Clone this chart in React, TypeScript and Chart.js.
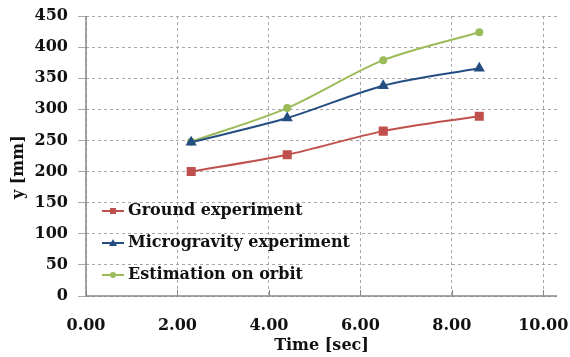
import { useEffect, useRef } from 'react';
import { Chart, registerables } from 'chart.js';

Chart.register(...registerables);

const timeSec = [2.3, 4.4, 6.5, 8.6];
const groundExperiment = [200, 227, 265, 289];
const microgravityExperiment = [247, 286, 338, 366];
const estimationOnOrbit = [248, 302, 379, 424];
const seriesLabels = ['Ground experiment', 'Microgravity experiment', 'Estimation on orbit'];
const xTickValues = [0, 2, 4, 6, 8, 10];
const yTickValues = [0, 50, 100, 150, 200, 250, 300, 350, 400, 450];

const FONT = "'DejaVu Serif', serif";
const RED = '#C0504D';
const BLUE = '#244E82';
const GREEN = '#9BBB59';

const axesPlugin = {
  id: 'solidAxes',
  beforeDatasetsDraw(chart: any) {
    const { ctx, chartArea } = chart;
    const xs = chart.scales.x;
    ctx.save();
    ctx.strokeStyle = '#888';
    ctx.lineWidth = 1.5;
    ctx.setLineDash([]);
    ctx.beginPath();
    ctx.moveTo(chartArea.left, chartArea.top);
    ctx.lineTo(chartArea.left, chartArea.bottom);
    ctx.lineTo(chartArea.right, chartArea.bottom);
    ctx.stroke();
    // inside tick marks on the x axis
    ctx.lineWidth = 1;
    xTickValues.forEach((v) => {
      const px = Math.round(xs.getPixelForValue(v)) + 0.5;
      ctx.beginPath();
      ctx.moveTo(px, chartArea.bottom);
      ctx.lineTo(px, chartArea.bottom - 6);
      ctx.stroke();
    });
    ctx.restore();
  },
};

const legendPlugin = {
  id: 'insideLegend',
  afterDatasetsDraw(chart: any) {
    const { ctx, chartArea } = chart;
    const rows = [85, 53, 21];
    ctx.save();
    chart.data.datasets.forEach((ds: any, i: number) => {
      const y = chartArea.bottom - rows[i];
      const x0 = chartArea.left + 16;
      const x1 = chartArea.left + 38;
      const cx = (x0 + x1) / 2;
      ctx.strokeStyle = ds.borderColor;
      ctx.lineWidth = 2;
      ctx.beginPath();
      ctx.moveTo(x0, y);
      ctx.lineTo(x1, y);
      ctx.stroke();
      ctx.fillStyle = ds.borderColor;
      ctx.beginPath();
      if (ds.pointStyle === 'rect') {
        ctx.rect(cx - 3, y - 3, 6, 6);
      } else if (ds.pointStyle === 'triangle') {
        ctx.moveTo(cx, y - 4);
        ctx.lineTo(cx + 4, y + 3);
        ctx.lineTo(cx - 4, y + 3);
        ctx.closePath();
      } else {
        ctx.arc(cx, y, 3, 0, Math.PI * 2);
      }
      ctx.fill();
      ctx.fillStyle = '#111';
      ctx.font = `bold 16px ${FONT}`;
      ctx.textBaseline = 'middle';
      ctx.textAlign = 'left';
      ctx.fillText(ds.label, chartArea.left + 42, y);
    });
    ctx.restore();
  },
};

export default function App() {
  const ref = useRef<HTMLCanvasElement>(null);
  useEffect(() => {
    if (!ref.current) return;
    const mk = (vals: number[]) => timeSec.map((x, i) => ({ x, y: vals[i] }));
    const chart = new Chart(ref.current, {
      type: 'line',
      data: {
        datasets: [
          {
            label: seriesLabels[0],
            data: mk(groundExperiment),
            borderColor: RED,
            backgroundColor: RED,
            pointStyle: 'rect',
            pointRadius: 5,
            borderWidth: 2,
            tension: 0.3,
          },
          {
            label: seriesLabels[1],
            data: mk(microgravityExperiment),
            borderColor: BLUE,
            backgroundColor: BLUE,
            pointStyle: 'triangle',
            pointRadius: 4.5,
            borderWidth: 2,
            tension: 0.3,
          },
          {
            label: seriesLabels[2],
            data: mk(estimationOnOrbit),
            borderColor: GREEN,
            backgroundColor: GREEN,
            pointStyle: 'circle',
            pointRadius: 3,
            borderWidth: 2,
            tension: 0.3,
          },
        ],
      },
      options: {
        animation: false,
        responsive: false,
        layout: { padding: { left: 0, right: 13, top: 16, bottom: 0 } },
        plugins: { legend: { display: false }, tooltip: { enabled: false } },
        scales: {
          x: {
            type: 'linear',
            min: 0,
            max: 10.3,
            afterBuildTicks: (s: any) => {
              s.ticks = xTickValues.map((v) => ({ value: v }));
            },
            afterFit: (s: any) => {
              s.height = 61;
              s.paddingLeft = 0;
              s.paddingRight = 0;
            },
            ticks: {
              callback: (v: any) => Number(v).toFixed(2),
              font: { family: FONT, size: 16, weight: 'bold' },
              color: '#111',
              padding: 20,
              maxRotation: 0,
            },
            grid: {
              color: '#a8a8a8',
              drawTicks: false,
              tickLength: 0,
            },
            border: { display: false, dash: [3, 3] },
            title: {
              display: true,
              text: 'Time [sec]',
              font: { family: FONT, size: 16, weight: 'bold' },
              color: '#111',
              padding: { top: 0, bottom: 2 },
            },
          },
          y: {
            type: 'linear',
            min: 0,
            max: 450,
            afterBuildTicks: (s: any) => {
              s.ticks = yTickValues.map((v) => ({ value: v }));
            },
            afterFit: (s: any) => {
              s.width = 86;
              s.paddingTop = 0;
              s.paddingBottom = 0;
            },
            ticks: {
              font: { family: FONT, size: 16, weight: 'bold' },
              color: '#111',
              padding: 10,
            },
            grid: {
              color: '#a8a8a8',
              tickLength: 8,
              tickColor: '#a8a8a8',
            },
            border: { display: false, dash: [3, 3] },
            title: {
              display: true,
              text: 'y [mm]\u00A0\u00A0\u00A0\u00A0',
              font: { family: FONT, size: 16, weight: 'bold' },
              color: '#111',
              padding: { top: 9, bottom: 0 },
            },
          },
        },
      },
      plugins: [axesPlugin, legendPlugin],
    } as any);
    return () => chart.destroy();
  }, []);
  return (
    <div style={{ position: 'fixed', left: 0, top: 0, width: 570, height: 357, background: '#fff' }}>
      <canvas ref={ref} width={570} height={357} style={{ width: 570, height: 357 }} />
    </div>
  );
}
